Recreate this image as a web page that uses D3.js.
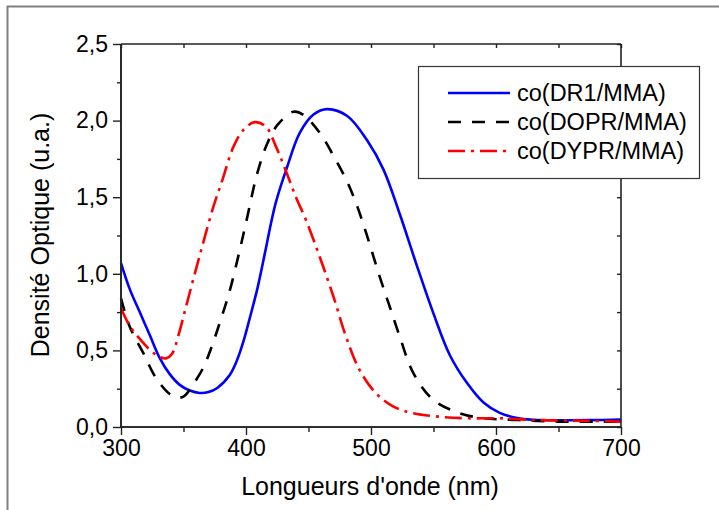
<!DOCTYPE html>
<html><head><meta charset="utf-8">
<script src="https://cdn.jsdelivr.net/npm/d3@7"></script>
<style>body{margin:0;background:#fff}svg{display:block}text{font-family:Arial,"Liberation Sans",sans-serif;fill:#000}</style>
</head><body>
<script>
// Data
const seriesNames = ["co(DR1/MMA)", "co(DOPR/MMA)", "co(DYPR/MMA)"];
const dr1Wave = [300,307,315,323,331,339,347,355,363,370,377,387,393,398,403,409,415,420,424,433,443,454,465,481,497,510,523,536,550,563,577,590,603,617,630,650,675,700];
const dr1Abs  = [1.07,0.90,0.75,0.60,0.45,0.345,0.275,0.238,0.222,0.228,0.255,0.34,0.44,0.56,0.71,0.90,1.13,1.33,1.47,1.70,1.92,2.04,2.075,2.03,1.87,1.68,1.39,1.07,0.74,0.47,0.285,0.16,0.092,0.058,0.047,0.044,0.045,0.048];
const doprWave = [300,307,318,328,339,345,350,354,358,366,371,379,387,395,401,409,417,425,438,446,459,470,481,489,496,507,515,523,534,550,571,590,617,650,700];
const doprAbs  = [0.84,0.655,0.48,0.32,0.215,0.192,0.198,0.232,0.28,0.39,0.49,0.68,0.89,1.155,1.37,1.656,1.85,1.97,2.058,2.037,1.92,1.77,1.60,1.44,1.27,0.98,0.785,0.59,0.35,0.176,0.09,0.057,0.046,0.035,0.035];
const dyprWave = [300,307,315,323,330,336,341,346,352,359,366,374,381,390,398,407,416,424,432,440,448,459,470,480,491,504,518,534,555,577,603,630,675,700];
const dyprAbs  = [0.775,0.66,0.575,0.505,0.462,0.448,0.48,0.60,0.785,1.00,1.21,1.44,1.61,1.83,1.94,1.99,1.96,1.83,1.67,1.50,1.35,1.11,0.85,0.59,0.37,0.22,0.133,0.09,0.067,0.057,0.057,0.046,0.04,0.035];
const xTicks = [300,400,500,600,700];
const xMinor = [350,450,550,650];
const yTicks = [0,0.5,1.0,1.5,2.0,2.5];
const yMinor = [0.25,0.75,1.25,1.75,2.25];
const xTitle = "Longueurs d'onde (nm)";
const yTitle = "Densité Optique (u.a.)";

const W = 719, H = 510;
const svg = d3.select("body").append("svg").attr("width", W).attr("height", H);

const x = d3.scaleLinear().domain([300,700]).range([121,621]);
const y = d3.scaleLinear().domain([0,2.5]).range([427,44]);
const fmt = d => d3.format(".1f")(d).replace(".", ",");

// outer frame
svg.append("path").attr("d", "M7.5,510 V6.5 H719").attr("fill","none").attr("stroke","#808080").attr("stroke-width",2);

const series = [
  {name: seriesNames[0], w: dr1Wave, v: dr1Abs, color: "#0000ff", dash: null},
  {name: seriesNames[1], w: doprWave, v: doprAbs, color: "#000000", dash: "13,11"},
  {name: seriesNames[2], w: dyprWave, v: dyprAbs, color: "#ff0000", dash: "17,6,3,6"}
];

const line = d3.line().x(d => x(d[0])).y(d => y(d[1])).curve(d3.curveCatmullRom.alpha(0.5));
const g = svg.append("g");
series.forEach(s => {
  const pts = s.w.map((w,i) => [w, s.v[i]]);
  g.append("path").datum(pts).attr("d", line).attr("fill","none")
    .attr("stroke", s.color).attr("stroke-width", 2.6)
    .attr("stroke-dasharray", s.dash);
});

const axisColor = "#222";
const axBottom = svg.append("g").attr("transform","translate(0,427)");
axBottom.call(d3.axisBottom(x).tickValues(xTicks).tickSize(8).tickPadding(5).tickFormat(d3.format("d")));
axBottom.append("g").call(d3.axisBottom(x).tickValues(xMinor).tickSize(5).tickFormat(""));
const axLeft = svg.append("g").attr("transform","translate(121,0)");
axLeft.call(d3.axisLeft(y).tickValues(yTicks).tickSize(8).tickPadding(5).tickFormat(fmt));
axLeft.append("g").call(d3.axisLeft(y).tickValues(yMinor).tickSize(4).tickFormat(""));
const axTop = svg.append("g").attr("transform","translate(0,44)");
axTop.call(d3.axisBottom(x).tickValues(xTicks.concat(xMinor)).tickSize(4).tickFormat(""));
const axRight = svg.append("g").attr("transform","translate(621,0)");
axRight.call(d3.axisLeft(y).tickValues(yTicks.concat(yMinor)).tickSize(4).tickFormat(""));

svg.selectAll(".domain").attr("stroke", axisColor).attr("stroke-width", 1.6);
svg.selectAll(".tick line").attr("stroke", axisColor).attr("stroke-width", 1.4);
svg.selectAll(".tick text").attr("font-size", 23).attr("font-family","Arial, 'Liberation Sans', sans-serif").attr("fill","#000");
axBottom.selectAll(".domain").attr("d", "M121,0H621");
axLeft.selectAll(".domain").attr("d", "M0,427V44");
axTop.selectAll(".domain").attr("d", "M121,0H621");
axRight.selectAll(".domain").attr("d", "M0,427V44");

// titles
svg.append("text").attr("x", 370).attr("y", 495).attr("text-anchor","middle").attr("font-size",25).text(xTitle);
svg.append("text").attr("transform","translate(49,235) rotate(-90)").attr("text-anchor","middle").attr("font-size",25).text(yTitle);

// legend
const lg = svg.append("g");
lg.append("rect").attr("x",418.5).attr("y",66.5).attr("width",281).attr("height",112)
  .attr("fill","#fff").attr("stroke","#333").attr("stroke-width",1.2);
series.forEach((s,i) => {
  const yy = 93 + i*29;
  lg.append("line").attr("x1",448).attr("x2",510).attr("y1",yy).attr("y2",yy)
    .attr("stroke", s.color).attr("stroke-width",2.6).attr("stroke-dasharray", s.dash);
  lg.append("text").attr("x",517).attr("y",yy).attr("dy","0.36em").attr("font-size",23.5).text(s.name);
});
</script>
</body></html>
